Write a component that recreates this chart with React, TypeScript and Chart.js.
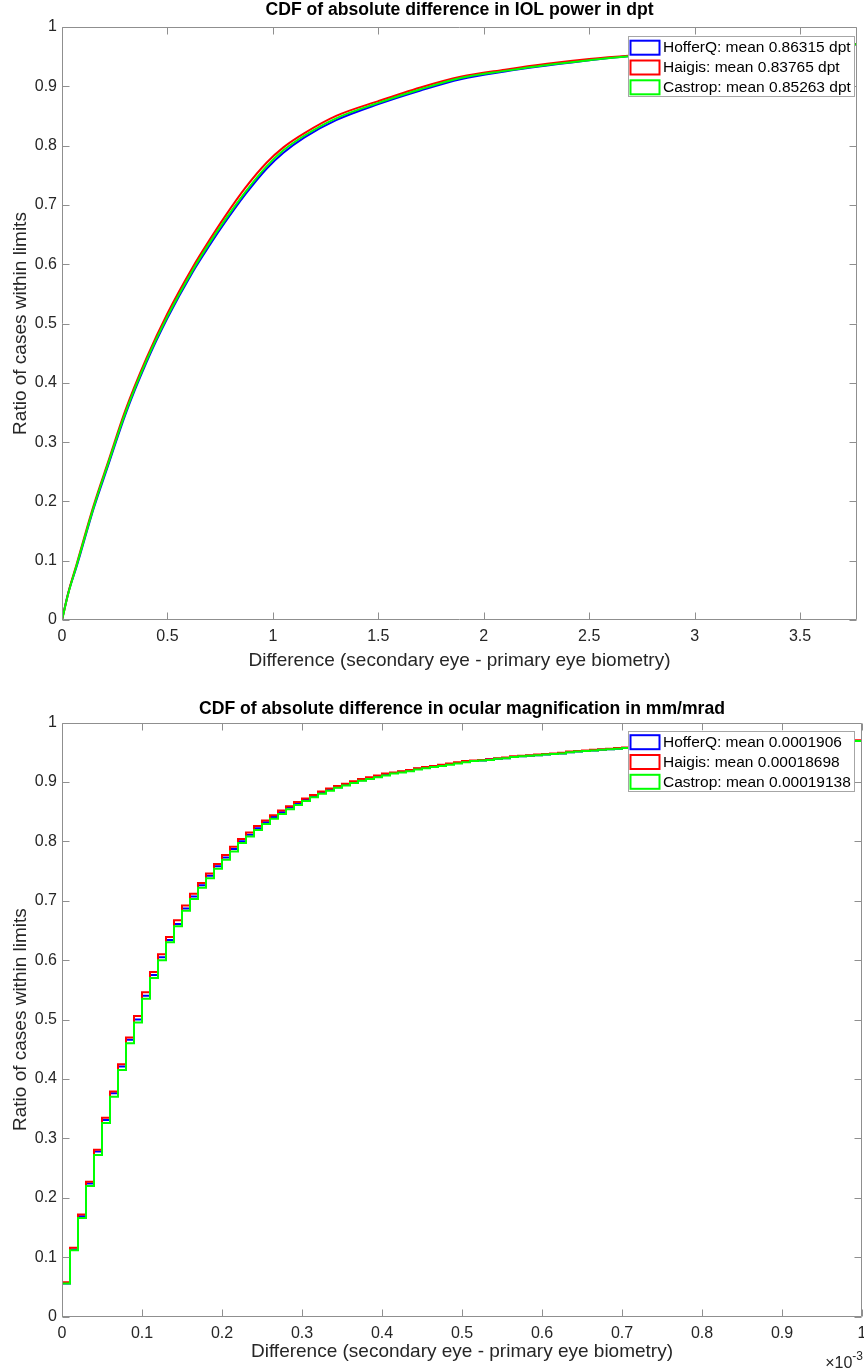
import React, { useEffect, useRef } from "react";
import { Chart, registerables } from "chart.js";

Chart.register(...registerables);

const FONT = "'Liberation Sans', Arial, Helvetica, sans-serif";
Chart.defaults.font.family = FONT;

const seriesNames = ["HofferQ", "Haigis", "Castrop"];
const seriesColors = ["#0000ff", "#ff0000", "#00ff00"];
const xAxisLabel = "Difference (secondary eye - primary eye biometry)";
const yAxisLabel = "Ratio of cases within limits";

// ---- Chart 1: IOL power (dpt) ----
const iolTitle = "CDF of absolute difference in IOL power in dpt";
const iolMeans = ["0.86315 dpt", "0.83765 dpt", "0.85263 dpt"];
const iolXMax = 3.77;
const iolX = [0, 0.03, 0.07, 0.15, 0.22, 0.3, 0.4, 0.5, 0.62, 0.7, 0.77, 0.87, 0.97, 1.05, 1.15, 1.3, 1.5, 1.7, 1.89, 2.1, 2.3, 2.5, 2.7, 3.0, 3.3, 3.6, 3.77];
const iolHofferQ = [0, 0.046, 0.091, 0.188, 0.262, 0.346, 0.434, 0.509, 0.587, 0.632, 0.669, 0.718, 0.761, 0.788, 0.814, 0.843, 0.870, 0.893, 0.912, 0.925, 0.935, 0.944, 0.951, 0.958, 0.963, 0.968, 0.971];
const iolHaigis = [0, 0.046, 0.095, 0.193, 0.268, 0.353, 0.441, 0.517, 0.595, 0.641, 0.679, 0.729, 0.771, 0.797, 0.821, 0.850, 0.875, 0.898, 0.916, 0.928, 0.938, 0.946, 0.952, 0.959, 0.964, 0.969, 0.971];
const iolCastrop = [0, 0.045, 0.093, 0.19, 0.265, 0.349, 0.437, 0.512, 0.59, 0.636, 0.673, 0.722, 0.765, 0.792, 0.817, 0.846, 0.872, 0.895, 0.914, 0.926, 0.936, 0.944, 0.951, 0.958, 0.963, 0.968, 0.971];

// ---- Chart 2: ocular magnification (x in units of 1e-3 mm/mrad) ----
const magTitle = "CDF of absolute difference in ocular magnification in mm/mrad";
const magMeans = ["0.0001906", "0.00018698", "0.00019138"];
const magXMax = 1;
const magX = [0,
  0, 0.01, 0.02, 0.03, 0.04, 0.05, 0.06, 0.07, 0.08, 0.09,
  0.1, 0.11, 0.12, 0.13, 0.14, 0.15, 0.16, 0.17, 0.18, 0.19,
  0.2, 0.21, 0.22, 0.23, 0.24, 0.25, 0.26, 0.27, 0.28, 0.29,
  0.3, 0.31, 0.32, 0.33, 0.34, 0.35, 0.36, 0.37, 0.38, 0.39,
  0.4, 0.41, 0.42, 0.43, 0.44, 0.45, 0.46, 0.47, 0.48, 0.49,
  0.5, 0.51, 0.52, 0.53, 0.54, 0.55, 0.56, 0.57, 0.58, 0.59,
  0.6, 0.61, 0.62, 0.63, 0.64, 0.65, 0.66, 0.67, 0.68, 0.69,
  0.7, 0.75, 0.8, 0.85, 0.9, 0.95, 1.0];
const magHofferQ = [0,
  0.056, 0.113, 0.169, 0.224, 0.278, 0.331, 0.376, 0.421, 0.466, 0.5,
  0.54, 0.575, 0.605, 0.634, 0.661, 0.687, 0.707, 0.726, 0.742, 0.758,
  0.773, 0.787, 0.8, 0.811, 0.822, 0.832, 0.841, 0.849, 0.857, 0.864,
  0.87, 0.876, 0.882, 0.887, 0.891, 0.895, 0.899, 0.903, 0.906, 0.909,
  0.912, 0.915, 0.917, 0.919, 0.922, 0.924, 0.926, 0.928, 0.93, 0.932,
  0.934, 0.935, 0.936, 0.938, 0.939, 0.94, 0.942, 0.943, 0.944, 0.945,
  0.946, 0.947, 0.948, 0.95, 0.951, 0.952, 0.953, 0.954, 0.955, 0.956,
  0.957, 0.96, 0.963, 0.965, 0.967, 0.969, 0.971];
const magHaigis = [0,
  0.058, 0.116, 0.172, 0.227, 0.281, 0.335, 0.379, 0.425, 0.47, 0.506,
  0.546, 0.58, 0.61, 0.639, 0.667, 0.692, 0.712, 0.73, 0.746, 0.762,
  0.777, 0.791, 0.804, 0.815, 0.826, 0.835, 0.844, 0.852, 0.859, 0.866,
  0.872, 0.878, 0.884, 0.889, 0.893, 0.897, 0.901, 0.905, 0.908, 0.911,
  0.914, 0.916, 0.918, 0.92, 0.923, 0.925, 0.927, 0.929, 0.931, 0.933,
  0.935, 0.936, 0.937, 0.938, 0.94, 0.941, 0.943, 0.944, 0.945, 0.946,
  0.947, 0.948, 0.949, 0.951, 0.952, 0.953, 0.954, 0.955, 0.956, 0.957,
  0.958, 0.961, 0.964, 0.966, 0.968, 0.97, 0.972];
const magCastrop = [0,
  0.056, 0.112, 0.166, 0.22, 0.272, 0.326, 0.37, 0.415, 0.46, 0.495,
  0.535, 0.57, 0.6, 0.63, 0.657, 0.683, 0.703, 0.722, 0.738, 0.754,
  0.769, 0.783, 0.797, 0.808, 0.819, 0.829, 0.838, 0.846, 0.854, 0.861,
  0.868, 0.874, 0.88, 0.885, 0.89, 0.894, 0.898, 0.902, 0.905, 0.908,
  0.911, 0.914, 0.916, 0.918, 0.921, 0.923, 0.925, 0.927, 0.929, 0.931,
  0.933, 0.935, 0.936, 0.937, 0.939, 0.94, 0.942, 0.943, 0.944, 0.945,
  0.946, 0.947, 0.948, 0.95, 0.951, 0.952, 0.953, 0.954, 0.955, 0.956,
  0.957, 0.96, 0.963, 0.965, 0.967, 0.969, 0.971];

const AXIS_COLOR = "#8f8f8f";
const TEXT_COLOR = "#262626";
const W = 864;

type Geo = {
  height: number; left: number; right: number; top: number; bottom: number;
  titleTop: number; xTitlePad: number; legendTop: number; legendRight: number;
};

const fmt = (v: any) => String(Math.round(Number(v) * 1000) / 1000);

const matlabPlugin = {
  id: "matlabAxes",
  afterDatasetsDraw(chart: any) {
    const { ctx, chartArea: a, scales } = chart;
    const L = Math.round(a.left) + 0.5, R = Math.round(a.right) - 0.5;
    const T = Math.round(a.top) + 0.5, B = Math.round(a.bottom) - 0.5;
    const tl = 7;
    ctx.save();
    ctx.strokeStyle = AXIS_COLOR;
    ctx.lineWidth = 1;
    ctx.beginPath();
    ctx.rect(L, T, R - L, B - T);
    scales.x.ticks.forEach((t: any) => {
      const px = Math.round(scales.x.getPixelForValue(t.value)) + 0.5;
      ctx.moveTo(px, B); ctx.lineTo(px, B - tl);
      ctx.moveTo(px, T); ctx.lineTo(px, T + tl);
    });
    scales.y.ticks.forEach((t: any) => {
      const py = Math.round(scales.y.getPixelForValue(t.value)) + 0.5;
      ctx.moveTo(L, py); ctx.lineTo(L + tl, py);
      ctx.moveTo(R, py); ctx.lineTo(R - tl, py);
    });
    ctx.stroke();
    ctx.restore();
  },
  afterDraw(chart: any, _args: any, opts: any) {
    const { ctx, chartArea: a } = chart;
    const ds = chart.data.datasets;
    const width = 226, rowH = 19.8, height = 60;
    const right = opts.legendRight;
    const left = right - width;
    const top = a.top + opts.legendTop;
    ctx.save();
    ctx.fillStyle = "#ffffff";
    ctx.fillRect(left, top, width, height);
    ctx.strokeStyle = "#a6a6a6";
    ctx.lineWidth = 1;
    ctx.strokeRect(Math.round(left) + 0.5, Math.round(top) + 0.5, width, height);
    ctx.font = `15.5px ${FONT}`;
    ctx.textBaseline = "middle";
    ctx.textAlign = "left";
    ds.forEach((d: any, i: number) => {
      const cy = top + 11.7 + i * rowH;
      ctx.strokeStyle = d.borderColor;
      ctx.lineWidth = 2;
      ctx.strokeRect(left + 2.5, cy - 7, 29, 14);
      ctx.fillStyle = "#000";
      ctx.fillText(d.label, left + 35, cy + 0.5);
    });
    if (opts.exponent) {
      ctx.fillStyle = TEXT_COLOR;
      ctx.textBaseline = "alphabetic";
      ctx.textAlign = "right";
      ctx.font = `12px ${FONT}`;
      const supW = ctx.measureText("-3").width;
      ctx.fillText("-3", a.right + 1, chart.height - 10);
      ctx.font = `16px ${FONT}`;
      ctx.fillText("\u00d710", a.right + 1 - supW, chart.height - 2);
    }
    ctx.restore();
  },
};

type Props = {
  title: string; xs: number[]; series: number[][]; means: string[];
  xMax: number; xStep: number; stepped: boolean; exponent: boolean; geo: Geo;
};

function CdfChart(p: Props) {
  const ref = useRef<HTMLCanvasElement>(null);
  useEffect(() => {
    const g = p.geo;
    const titleSize = 17.6;
    const titleLH = titleSize * 1.2;
    const datasets = p.series.map((ys, i) => ({
      label: `${seriesNames[i]}: mean ${p.means[i]}`,
      data: p.xs.map((x, j) => ({ x, y: ys[j] })),
      borderColor: seriesColors[i],
      backgroundColor: seriesColors[i],
      borderWidth: 2,
      pointRadius: 0,
      fill: false,
      tension: 0,
      cubicInterpolationMode: p.stepped ? "default" : "monotone",
      stepped: p.stepped ? "before" : false,
      order: 3 - i,
    }));
    const chart = new Chart(ref.current as HTMLCanvasElement, {
      type: "line",
      data: { datasets } as any,
      plugins: [matlabPlugin as any],
      options: {
        responsive: false,
        animation: false,
        devicePixelRatio: 1,
        layout: { padding: { left: 0, top: 0, right: W - g.right, bottom: 0 } },
        plugins: {
          legend: { display: false },
          tooltip: { enabled: false },
          title: {
            display: true,
            text: p.title,
            fullSize: false,
            color: "#000",
            font: { size: titleSize, weight: "bold", family: FONT },
            padding: { top: g.titleTop, bottom: g.top - g.titleTop - titleLH },
          },
          matlabAxes: { legendTop: g.legendTop, legendRight: g.legendRight, exponent: p.exponent },
        } as any,
        scales: {
          x: {
            type: "linear",
            min: 0,
            max: p.xMax,
            grid: { display: false, drawTicks: false },
            border: { display: false },
            ticks: {
              stepSize: p.xStep,
              includeBounds: false,
              autoSkip: false,
              maxRotation: 0,
              color: TEXT_COLOR,
              font: { size: 16, family: FONT },
              padding: 7,
              callback: fmt,
            },
            title: {
              display: true,
              text: xAxisLabel,
              color: TEXT_COLOR,
              font: { size: 19, family: FONT },
              padding: { top: 0, bottom: g.xTitlePad },
            },
            afterFit: (s: any) => {
              s.height = g.height - g.bottom;
              s.paddingLeft = 0;
              s.paddingRight = 0;
            },
          },
          y: {
            type: "linear",
            min: 0,
            max: 1,
            grid: { display: false, drawTicks: false },
            border: { display: false },
            ticks: {
              stepSize: 0.1,
              autoSkip: false,
              color: TEXT_COLOR,
              font: { size: 16, family: FONT },
              padding: 5,
              callback: fmt,
            },
            title: {
              display: true,
              text: yAxisLabel,
              color: TEXT_COLOR,
              font: { size: 19, family: FONT },
              padding: { top: 9.6, bottom: 0 },
            },
            afterFit: (s: any) => {
              s.width = g.left;
              s.paddingTop = 0;
              s.paddingBottom = 0;
            },
          },
        } as any,
      },
    } as any);
    return () => chart.destroy();
  }, []);
  return (
    <canvas
      ref={ref}
      width={W}
      height={p.geo.height}
      style={{ display: "block", width: W, height: p.geo.height }}
    />
  );
}

const geo1: Geo = { height: 685, left: 62, right: 857, top: 27, bottom: 620, titleTop: 0, xTitlePad: 12.6, legendTop: 9, legendRight: 854 };
const geo2: Geo = { height: 685, left: 62, right: 862, top: 37.5, bottom: 631.7, titleTop: 14, xTitlePad: 7.1, legendTop: 8, legendRight: 854 };

export default function App() {
  return (
    <div style={{ position: "absolute", left: 0, top: 0, width: W, height: 1370, background: "#fff" }}>
      <CdfChart title={iolTitle} xs={iolX} series={[iolHofferQ, iolHaigis, iolCastrop]} means={iolMeans}
        xMax={iolXMax} xStep={0.5} stepped={false} exponent={false} geo={geo1} />
      <CdfChart title={magTitle} xs={magX} series={[magHofferQ, magHaigis, magCastrop]} means={magMeans}
        xMax={magXMax} xStep={0.1} stepped={true} exponent={true} geo={geo2} />
    </div>
  );
}
